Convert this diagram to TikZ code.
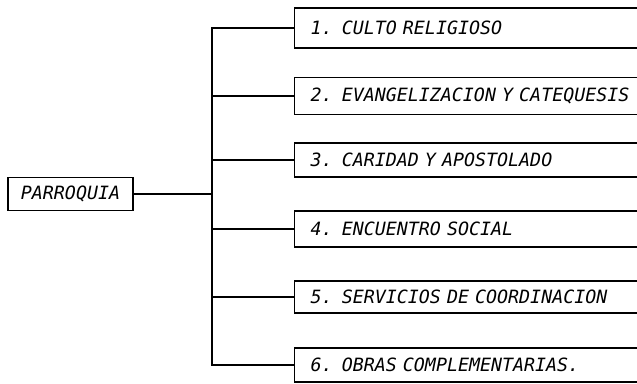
\documentclass[tikz,border=0pt]{standalone}
\usepackage{fontspec}
\setmonofont{DejaVu Sans Mono}
\begin{document}
\begin{tikzpicture}[x=1pt,y=-1pt,
  lbl/.style={font=\fontsize{18.3}{20}\ttfamily\itshape},
  itembox/.style={draw, line width=1.2pt, lbl, anchor=west, text width=330pt, align=left, inner xsep=16pt, inner ysep=0pt},
  rootbox/.style={draw, line width=1.2pt, lbl, minimum width=125pt, minimum height=33pt, inner sep=0pt},
  conn/.style={line width=1.2pt}]
\fill[white] (0,0) rectangle (637,383);
\useasboundingbox (0,0) rectangle (637,383);
\clip (0,0) rectangle (637,383);
\coordinate (tr) at (212,0);
\node[rootbox] (par) at (70.5,194) {PARROQUIA};
\node[itembox, minimum height=40pt] (b1) at (294,28) {1. CULTO RELIGIOSO};
\node[itembox, minimum height=37pt] (b2) at (294,96) {2. EVANGELIZACION Y CATEQUESIS};
\node[itembox, minimum height=34pt] (b3) at (294,160) {3. CARIDAD Y APOSTOLADO};
\node[itembox, minimum height=36pt] (b4) at (294,229) {4. ENCUENTRO SOCIAL};
\node[itembox, minimum height=32pt] (b5) at (294,297) {5. SERVICIOS DE COORDINACION};
\node[itembox, minimum height=34pt] (b6) at (294,365) {6. OBRAS COMPLEMENTARIAS.};
\draw[conn] (b1.west) -- (b1.west -| tr) -- (b6.west -| tr) -- (b6.west);
\draw[conn] (b2.west -| tr) -- (b2.west);
\draw[conn] (b3.west -| tr) -- (b3.west);
\draw[conn] (b4.west -| tr) -- (b4.west);
\draw[conn] (b5.west -| tr) -- (b5.west);
\draw[conn] (par.east) -- (par.east -| tr);
\end{tikzpicture}
\end{document}
